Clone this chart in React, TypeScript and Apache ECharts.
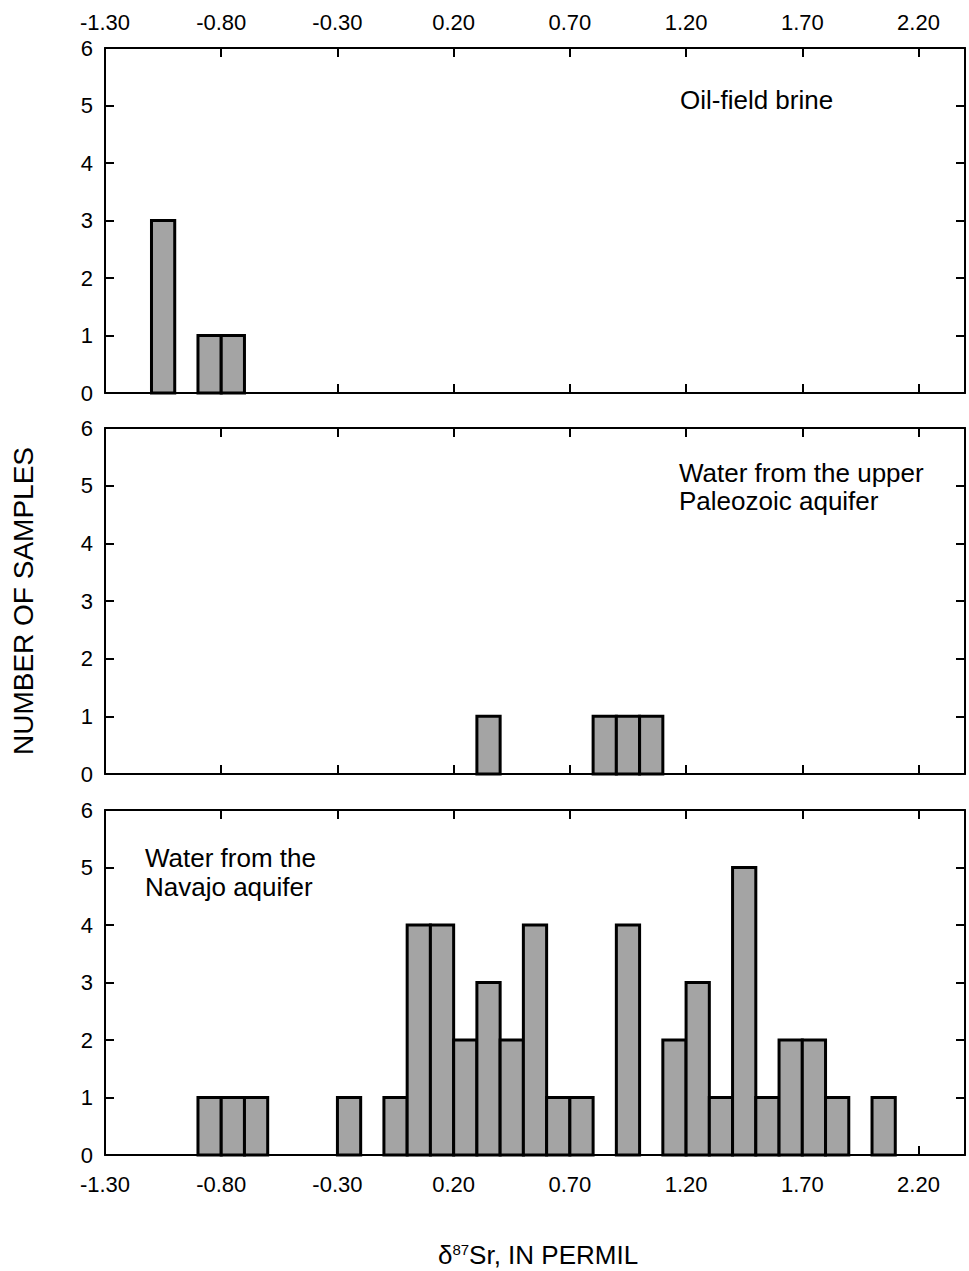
import React, { useEffect, useRef } from "react";
import * as echarts from "echarts";

// Histogram bins: start of each 0.1-permil bin and number of samples
const binWidth = 0.1;

const brineBins = [-1.1, -0.9, -0.8];
const brineCounts = [3, 1, 1];

const paleozoicBins = [0.3, 0.8, 0.9, 1.0];
const paleozoicCounts = [1, 1, 1, 1];

const navajoBins = [
  -0.9, -0.8, -0.7, -0.3, -0.1, 0.0, 0.1, 0.2, 0.3, 0.4, 0.5, 0.6, 0.7, 0.9,
  1.1, 1.2, 1.3, 1.4, 1.5, 1.6, 1.7, 1.8, 2.0,
];
const navajoCounts = [
  1, 1, 1, 1, 1, 4, 4, 2, 3, 2, 4, 1, 1, 4, 2, 3, 1, 5, 1, 2, 2, 1, 1,
];

const panelLabels = [
  ["Oil-field brine"],
  ["Water from the upper", "Paleozoic aquifer"],
  ["Water from the", "Navajo aquifer"],
];

const xMin = -1.3;
const xMax = 2.4;
const xInterval = 0.5;
const yMin = 0;
const yMax = 6;
const yInterval = 1;

const FONT = "'Liberation Sans', Arial, Helvetica, sans-serif";

export default function App() {
  const ref = useRef<HTMLDivElement>(null);

  useEffect(() => {
    if (!ref.current) return;
    const chart = echarts.init(ref.current, undefined, { renderer: "svg" });

    const panels = [
      { bins: brineBins, counts: brineCounts },
      { bins: paleozoicBins, counts: paleozoicCounts },
      { bins: navajoBins, counts: navajoCounts },
    ];
    const gridTops = [48, 428, 810];
    const gridHeights = [345, 346, 345];

    const axisLine = {
      show: true,
      onZero: false,
      lineStyle: { color: "#000", width: 2 },
    };
    const axisTick = {
      show: true,
      inside: true,
      length: 9,
      lineStyle: { color: "#000", width: 2 },
    };
    const labelStyle = {
      color: "#000",
      fontSize: 22,
      fontFamily: FONT,
    };

    const grid: any[] = [];
    const xAxis: any[] = [];
    const yAxis: any[] = [];
    const series: any[] = [];

    panels.forEach((p, i) => {
      grid.push({
        left: 105,
        right: 4,
        top: gridTops[i],
        height: gridHeights[i],
        containLabel: false,
      });
      // bottom x axis
      xAxis.push({
        type: "value",
        gridIndex: i,
        position: "bottom",
        min: xMin,
        max: xMax,
        interval: xInterval,
        axisLine,
        axisTick,
        splitLine: { show: false },
        axisLabel: {
          show: i === 2,
          ...labelStyle,
          margin: 18,
          showMaxLabel: false,
          formatter: (v: number) => v.toFixed(2),
        },
      });
      // top x axis
      xAxis.push({
        type: "value",
        gridIndex: i,
        position: "top",
        min: xMin,
        max: xMax,
        interval: xInterval,
        axisLine,
        axisTick,
        splitLine: { show: false },
        axisLabel: {
          show: i === 0,
          ...labelStyle,
          margin: 15,
          showMaxLabel: false,
          formatter: (v: number) => v.toFixed(2),
        },
      });
      // left y axis
      yAxis.push({
        type: "value",
        gridIndex: i,
        position: "left",
        min: yMin,
        max: yMax,
        interval: yInterval,
        axisLine,
        axisTick,
        splitLine: { show: false },
        axisLabel: { show: true, ...labelStyle, margin: 12 },
      });
      // right y axis
      yAxis.push({
        type: "value",
        gridIndex: i,
        position: "right",
        min: yMin,
        max: yMax,
        interval: yInterval,
        axisLine,
        axisTick,
        splitLine: { show: false },
        axisLabel: { show: false },
      });

      const data = p.bins.map((b, k) => [b, b + binWidth, p.counts[k]]);
      series.push({
        type: "custom",
        xAxisIndex: i * 2,
        yAxisIndex: i * 2,
        data,
        encode: { x: [0, 1], y: 2 },
        renderItem: (params: any, api: any) => {
          const p0 = api.coord([api.value(0), api.value(2)]);
          const p1 = api.coord([api.value(1), 0]);
          return {
            type: "rect",
            shape: {
              x: p0[0],
              y: p0[1],
              width: p1[0] - p0[0],
              height: p1[1] - p0[1],
            },
            style: { fill: "#a4a4a4", stroke: "#000", lineWidth: 3 },
          };
        },
      });
    });

    const textStyle = (text: string) => ({
      text,
      fill: "#000",
      font: `26px ${FONT}`,
      textVerticalAlign: "middle",
    });

    const graphic: any[] = [
      { type: "text", left: 680, top: 87, style: textStyle(panelLabels[0][0]) },
      { type: "text", left: 679, top: 460, style: textStyle(panelLabels[1][0]) },
      { type: "text", left: 679, top: 488, style: textStyle(panelLabels[1][1]) },
      { type: "text", left: 145, top: 845, style: textStyle(panelLabels[2][0]) },
      { type: "text", left: 145, top: 874, style: textStyle(panelLabels[2][1]) },
      {
        type: "text",
        x: 23,
        y: 601,
        rotation: Math.PI / 2,
        style: {
          text: "NUMBER OF SAMPLES",
          fill: "#000",
          font: `28px ${FONT}`,
          align: "center",
          verticalAlign: "middle",
        },
      },
      {
        type: "text",
        x: 538,
        y: 1255,
        style: {
          text: "{d|δ}{s|87}{n|Sr, IN PERMIL}",
          align: "center",
          verticalAlign: "middle",
          rich: {
            d: { fontSize: 26, fontFamily: FONT, fill: "#000", verticalAlign: "bottom" },
            s: {
              fontSize: 15,
              fontFamily: FONT,
              fill: "#000",
              verticalAlign: "top",
              lineHeight: 26,
            },
            n: { fontSize: 26, fontFamily: FONT, fill: "#000", verticalAlign: "bottom" },
          },
        },
      },
    ];

    chart.setOption({
      animation: false,
      backgroundColor: "#fff",
      grid,
      xAxis,
      yAxis,
      series,
      graphic,
    });

    return () => chart.dispose();
  }, []);

  return (
    <div
      ref={ref}
      style={{
        position: "absolute",
        left: 0,
        top: 0,
        width: 969,
        height: 1271,
        background: "#fff",
      }}
    />
  );
}
